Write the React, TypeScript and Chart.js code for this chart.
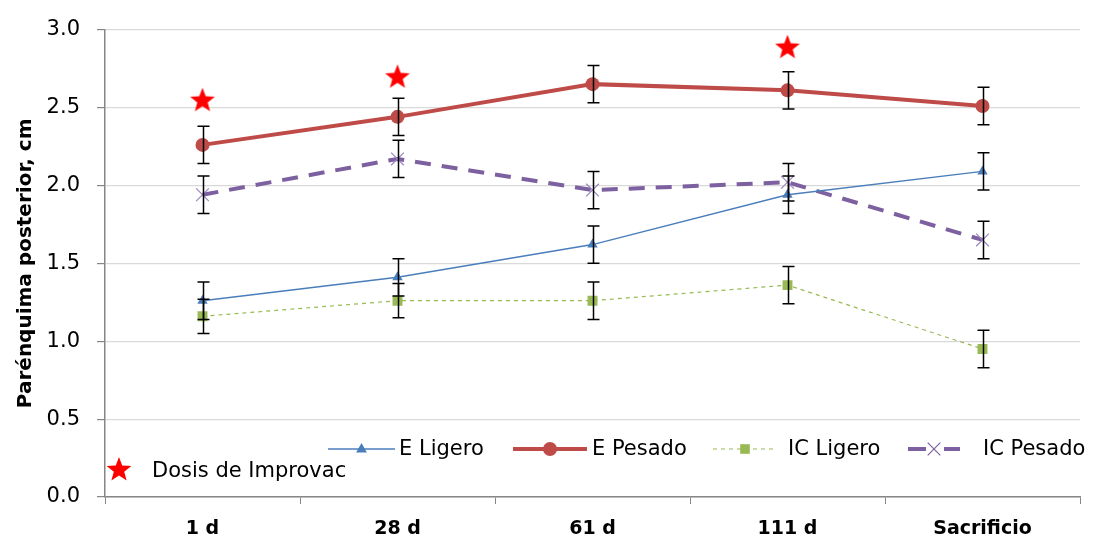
import React, { useEffect, useRef } from "react";
import { Chart, registerables } from "chart.js";

Chart.register(...registerables);

// Sampling days
const days = ["1 d", "28 d", "61 d", "111 d", "Sacrificio"];

// Mean posterior parenchyma (cm) per group
const eLigero = [1.26, 1.41, 1.62, 1.94, 2.09];
const ePesado = [2.26, 2.44, 2.65, 2.61, 2.51];
const icLigero = [1.16, 1.26, 1.26, 1.36, 0.95];
const icPesado = [1.94, 2.17, 1.97, 2.02, 1.65];

// Standard errors
const eLigeroErr = [0.12, 0.12, 0.12, 0.12, 0.12];
const ePesadoErr = [0.12, 0.12, 0.12, 0.12, 0.12];
const icLigeroErr = [0.11, 0.11, 0.12, 0.12, 0.12];
const icPesadoErr = [0.12, 0.12, 0.12, 0.12, 0.12];

// Improvac doses (star marker heights)
const dosis = [2.55, 2.7, null, 2.89, null];

const yTicks = [0, 0.5, 1, 1.5, 2, 2.5, 3];

const seriesNames = ["E Ligero", "E Pesado", "IC Ligero", "IC Pesado"];
const doseLabel = "Dosis de Improvac";

const FONT = "'DejaVu Sans', sans-serif";

function starPath(ctx: CanvasRenderingContext2D, cx: number, cy: number, R: number) {
  const r = R * 0.42;
  ctx.beginPath();
  for (let i = 0; i < 10; i++) {
    const rad = i % 2 === 0 ? R : r;
    const a = -Math.PI / 2 + (i * Math.PI) / 5;
    const x = cx + rad * Math.cos(a);
    const y = cy + rad * Math.sin(a);
    if (i === 0) ctx.moveTo(x, y);
    else ctx.lineTo(x, y);
  }
  ctx.closePath();
}

function makeStar(size: number) {
  const c = document.createElement("canvas");
  c.width = size;
  c.height = size;
  const ctx = c.getContext("2d")!;
  ctx.fillStyle = "#ff0000";
  starPath(ctx, size / 2, size / 2 + 1, size / 2);
  ctx.fill();
  return c;
}

function drawMarker(ctx: CanvasRenderingContext2D, style: string, x: number, y: number, r: number, color: string) {
  ctx.save();
  ctx.fillStyle = color;
  ctx.strokeStyle = color;
  ctx.setLineDash([]);
  if (style === "triangle") {
    ctx.beginPath();
    ctx.moveTo(x, y - r);
    ctx.lineTo(x + r * 0.9, y + r * 0.6);
    ctx.lineTo(x - r * 0.9, y + r * 0.6);
    ctx.closePath();
    ctx.fill();
  } else if (style === "circle") {
    ctx.beginPath();
    ctx.arc(x, y, r, 0, Math.PI * 2);
    ctx.fill();
  } else if (style === "rect") {
    ctx.fillRect(x - r * 0.8, y - r * 0.8, r * 1.6, r * 1.6);
  } else if (style === "crossRot") {
    ctx.lineWidth = 1.2;
    ctx.beginPath();
    ctx.moveTo(x - r * 0.7, y - r * 0.7);
    ctx.lineTo(x + r * 0.7, y + r * 0.7);
    ctx.moveTo(x + r * 0.7, y - r * 0.7);
    ctx.lineTo(x - r * 0.7, y + r * 0.7);
    ctx.stroke();
  }
  ctx.restore();
}

const errorBars = {
  id: "errorBars",
  afterDatasetsDraw(chart: any) {
    const ctx = chart.ctx;
    const yScale = chart.scales.y;
    ctx.save();
    ctx.strokeStyle = "#000";
    ctx.lineWidth = 1.5;
    ctx.setLineDash([]);
    chart.data.datasets.forEach((ds: any, di: number) => {
      if (!ds.errors) return;
      const meta = chart.getDatasetMeta(di);
      meta.data.forEach((pt: any, i: number) => {
        const v = ds.data[i];
        if (v == null) return;
        const e = ds.errors[i];
        const x = Math.round(pt.x) + 0.5;
        const yt = yScale.getPixelForValue(v + e);
        const yb = yScale.getPixelForValue(v - e);
        ctx.beginPath();
        ctx.moveTo(x, yt);
        ctx.lineTo(x, yb);
        ctx.moveTo(x - 6, yt);
        ctx.lineTo(x + 6, yt);
        ctx.moveTo(x - 6, yb);
        ctx.lineTo(x + 6, yb);
        ctx.stroke();
      });
    });
    ctx.restore();
  },
};

const insideLegend = {
  id: "insideLegend",
  afterDraw(chart: any) {
    const ctx = chart.ctx;
    const area = chart.chartArea;
    const rowY = area.bottom - 48;
    const entries = [
      { x: 328, w: 67, tx: 399, color: "#4a7ebb", width: 1.5, dash: [] as number[], marker: "triangle", r: 6 },
      { x: 513, w: 74, tx: 592, color: "#be4b48", width: 4, dash: [] as number[], marker: "circle", r: 7 },
      { x: 713, w: 64, tx: 788, color: "#98b954", width: 1.2, dash: [4, 4], marker: "rect", r: 6 },
      { x: 908, w: 52, tx: 983, color: "#7d60a0", width: 4, dash: [18, 18], marker: "crossRot", r: 9 },
    ];
    ctx.save();
    ctx.font = `21px ${FONT}`;
    ctx.fillStyle = "#000";
    ctx.textBaseline = "middle";
    entries.forEach((en, i) => {
      ctx.save();
      ctx.strokeStyle = en.color;
      ctx.lineWidth = en.width;
      ctx.setLineDash(en.dash);
      ctx.beginPath();
      ctx.moveTo(en.x, rowY);
      ctx.lineTo(en.x + en.w, rowY);
      ctx.stroke();
      ctx.restore();
      drawMarker(ctx, en.marker, en.x + en.w / 2, rowY, en.r, en.color);
      ctx.fillText(seriesNames[i], en.tx, rowY + 1);
    });
    const row2 = area.bottom - 27;
    ctx.fillStyle = "#ff0000";
    starPath(ctx, 119, row2, 13);
    ctx.fill();
    ctx.fillStyle = "#000";
    ctx.fillText(doseLabel, 152, row2 + 2);
    ctx.restore();
  },
};

export default function App() {
  const ref = useRef<HTMLCanvasElement | null>(null);

  useEffect(() => {
    document.body.style.margin = "0";
    const star = makeStar(26);
    const chart = new Chart(ref.current!, {
      type: "line",
      data: {
        labels: days,
        datasets: [
          {
            label: "Dosis",
            data: dosis as any,
            showLine: false,
            pointStyle: star as any,
            pointRadius: 13,
            order: 0,
          } as any,
          {
            label: seriesNames[0],
            data: eLigero,
            errors: eLigeroErr,
            borderColor: "#4a7ebb",
            backgroundColor: "#4a7ebb",
            borderWidth: 1.5,
            pointStyle: "triangle",
            pointRadius: 6,
            pointBorderWidth: 0,
          } as any,
          {
            label: seriesNames[1],
            data: ePesado,
            errors: ePesadoErr,
            borderColor: "#be4b48",
            backgroundColor: "#be4b48",
            borderWidth: 4,
            pointStyle: "circle",
            pointRadius: 7,
            pointBorderWidth: 0,
          } as any,
          {
            label: seriesNames[2],
            data: icLigero,
            errors: icLigeroErr,
            borderColor: "#98b954",
            backgroundColor: "#98b954",
            borderWidth: 1.2,
            borderDash: [4, 4],
            pointStyle: "rect",
            pointRadius: 7,
            pointBorderWidth: 0,
          } as any,
          {
            label: seriesNames[3],
            data: icPesado,
            errors: icPesadoErr,
            borderColor: "#7d60a0",
            backgroundColor: "#7d60a0",
            borderWidth: 4,
            borderDash: [16, 11],
            pointStyle: "crossRot",
            pointRadius: 9,
            pointBorderWidth: 1.2,
            pointBorderColor: "#9b86c0",
          } as any,
        ],
      },
      options: {
        animation: false,
        responsive: false,
        maintainAspectRatio: false,
        layout: { padding: { top: 28, right: 14, left: 0, bottom: 0 } },
        plugins: { legend: { display: false }, tooltip: { enabled: false } },
        scales: {
          x: {
            offset: true,
            grid: {
              offset: true,
              drawOnChartArea: false,
              drawTicks: true,
              tickLength: 7,
              tickColor: "#868686",
            },
            border: { color: "#868686", width: 1.5 },
            ticks: {
              color: "#000",
              padding: 14,
              font: { family: FONT, size: 19, weight: "bold" },
            },
            afterFit: (s: any) => {
              s.height = 44;
            },
          },
          y: {
            min: 0,
            max: 3,
            afterBuildTicks: (s: any) => {
              s.ticks = yTicks.map((v) => ({ value: v }));
            },
            grid: { color: "#d9d9d9", tickColor: "#868686", tickLength: 8, lineWidth: 1.2 },
            border: { color: "#868686", width: 1.5 },
            ticks: {
              color: "#000",
              padding: 17,
              font: { family: FONT, size: 21 },
              callback: (v: any) => Number(v).toFixed(1),
            },
            title: {
              display: true,
              text: "Parénquima posterior, cm",
              color: "#000",
              font: { family: FONT, size: 20, weight: "bold" },
              padding: { top: 14, bottom: 0 },
            },
            afterFit: (s: any) => {
              s.width = 105;
            },
          },
        },
      },
      plugins: [errorBars, insideLegend],
    });
    return () => chart.destroy();
  }, []);

  return (
    <div style={{ width: 1094, height: 541 }}>
      <canvas ref={ref} width={1094} height={541} style={{ display: "block" }} />
    </div>
  );
}
